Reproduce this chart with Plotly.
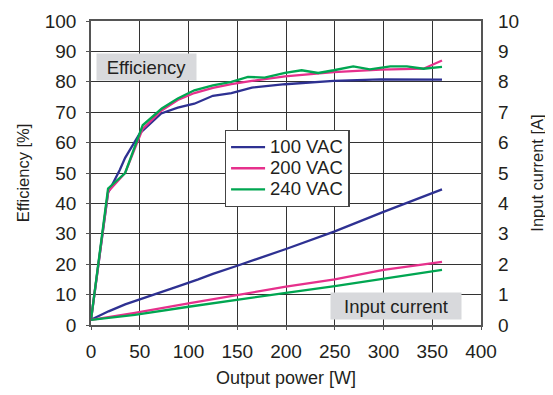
import plotly.graph_objects as go

# Efficiency curves (left axis, %)
eff_100_x = [0, 17.5, 29.5, 35, 50, 60, 72, 89, 106, 125, 144, 165, 199, 249, 297, 360]
eff_100_y = [1.7, 43.5, 51, 55, 63, 66, 69.6, 71.5, 72.8, 75.4, 76.3, 78.1, 79.2, 80.3, 80.8, 80.7]

eff_200_x = [0, 17.5, 35, 53, 72, 89, 106, 125, 144, 165, 199, 249, 297, 341, 360]
eff_200_y = [1.7, 43.8, 50, 64.5, 70.5, 74, 76.3, 78, 79.2, 80.3, 81.8, 83.2, 84, 84.3, 87]

eff_240_x = [0, 17.5, 35, 53, 72.6, 89, 106, 125, 144, 161, 178, 199, 216, 233, 249, 269, 286, 307, 324, 341, 360]
eff_240_y = [1.7, 44.9, 50, 65.7, 71.2, 74.5, 77.2, 78.8, 80, 81.6, 81.4, 82.9, 83.8, 82.9, 83.8, 85.1, 84.1, 85.1, 85.1, 84.3, 84.9]

# Input current curves (right axis, A)
cur_100_x = [0, 18, 35, 50, 70, 90, 110, 125, 150, 175, 200, 250, 300, 360]
cur_100_y = [0.17, 0.45, 0.68, 0.85, 1.07, 1.28, 1.5, 1.68, 1.95, 2.22, 2.5, 3.08, 3.72, 4.46]

cur_200_x = [0, 45, 100, 150, 200, 250, 300, 360]
cur_200_y = [0.17, 0.40, 0.71, 0.99, 1.26, 1.50, 1.81, 2.08]

cur_240_x = [0, 45, 100, 150, 200, 250, 300, 360]
cur_240_y = [0.17, 0.33, 0.60, 0.84, 1.06, 1.28, 1.53, 1.81]

series_names = ["100 VAC", "200 VAC", "240 VAC"]
colors = ["#2e3192", "#e6308c", "#00a651"]

FONT = "Liberation Sans, Arial, sans-serif"
TXT = "#231f20"
GRID = "#333333"
FRAME = "#555555"

fig = go.Figure()
eff = [(eff_100_x, eff_100_y), (eff_200_x, eff_200_y), (eff_240_x, eff_240_y)]
cur = [(cur_100_x, cur_100_y), (cur_200_x, cur_200_y), (cur_240_x, cur_240_y)]
for (x, y), name, c in zip(eff, series_names, colors):
    fig.add_trace(go.Scatter(x=x, y=y, mode="lines",
                             name="<span style='font-size:18.5px'>" + name + "</span>",
                             line=dict(color=c, width=2.3), yaxis="y"))
for (x, y), name, c in zip(cur, series_names, colors):
    fig.add_trace(go.Scatter(x=x, y=y, mode="lines", name=name, showlegend=False,
                             line=dict(color=c, width=2.3), yaxis="y2"))

# page body has an 8px margin, so the figure is shifted by 8px
fig.update_layout(
    width=545, height=387,
    margin=dict(l=83, r=72, t=13, b=70),
    paper_bgcolor="white", plot_bgcolor="white",
    font=dict(family=FONT, size=19, color=TXT),
    xaxis=dict(range=[0, 400], dtick=50, showgrid=True, gridcolor=GRID, gridwidth=1,
               showline=True, linecolor=FRAME, linewidth=1.5, mirror=True,
               ticks="outside", ticklen=3, tickcolor=FRAME,
               zeroline=False, tickfont=dict(size=19), ticklabelstandoff=5,
               automargin=False,
               title=dict(text="Output power [W]", font=dict(size=18), standoff=11)),
    yaxis=dict(range=[0, 100], dtick=10, showgrid=True, gridcolor=GRID, gridwidth=1,
               showline=True, linecolor=FRAME, linewidth=1.5, mirror=True,
               ticks="outside", ticklen=3, tickcolor=FRAME,
               zeroline=False, tickfont=dict(size=19), ticklabelstandoff=6,
               automargin=False,
               title=dict(text="Efficiency [%]", font=dict(size=16.5), standoff=11)),
    yaxis2=dict(range=[0, 10], dtick=1, overlaying="y", side="right", showgrid=False,
                zeroline=False, showline=False, tickfont=dict(size=19),
                ticks="", ticklabelstandoff=16, automargin=False,
                title=dict(text="Input current [A]", font=dict(size=16.5), standoff=13)),
    legend=dict(x=0.343, y=0.641, xanchor="left", yanchor="top",
                bgcolor="white", bordercolor="#444", borderwidth=1.3,
                font=dict(size=14), tracegroupgap=0, itemwidth=34),
    showlegend=True,
)

fig.add_annotation(x=56.5, y=84.8, xref="x", yref="y", text="Efficiency",
                   showarrow=False, bgcolor="#d8d9dc", width=99, height=26,
                   borderpad=0, font=dict(size=18.5, color=TXT))
fig.add_annotation(x=312.9, y=6.2, xref="x", yref="y", text="Input current",
                   showarrow=False, bgcolor="#d8d9dc", width=130, height=26,
                   borderpad=0, font=dict(size=18.5, color=TXT))

fig.write_html("out.html")
